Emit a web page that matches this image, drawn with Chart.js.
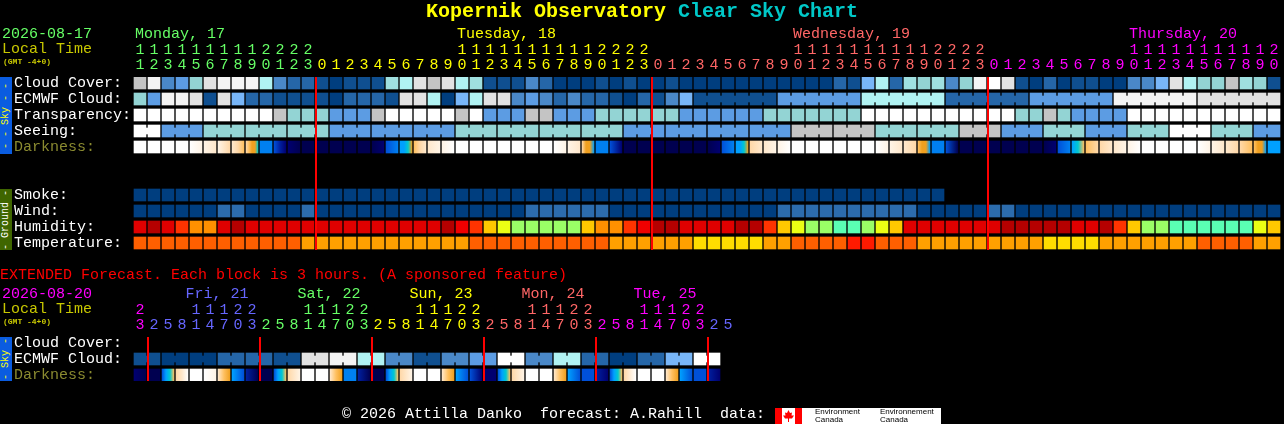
<!DOCTYPE html>
<html>
<head>
<meta charset="utf-8">
<title>Kopernik Observatory Clear Sky Chart</title>
<script src="https://cdn.jsdelivr.net/npm/chart.js@4"></script>
<style>
  html, body { margin: 0; padding: 0; background: #000; overflow: hidden; }
  body { width: 1284px; height: 424px; position: relative; font-family: "Liberation Mono", monospace; }
  canvas { position: absolute; left: 0; }
  .t { position: absolute; font-size: 15px; line-height: 16px; white-space: pre; }
  .side { position: absolute; left: 0; width: 12px; font-size: 10px; line-height: 12px; text-align: center;
          writing-mode: vertical-rl; transform: rotate(180deg); white-space: pre; }
  #ec { position: absolute; left: 775px; top: 408px; width: 166px; height: 16px; background: #fff; overflow: hidden; }
  #ec div { position: absolute; }
  #ec .name { color: #000; font: 8px/8px "Liberation Sans", sans-serif; top: 0; white-space: pre; }
</style>
</head>
<body>
<canvas id="main" width="1284" height="260" style="top:0"></canvas>
<canvas id="ext" width="1284" height="144" style="top:280px"></canvas>

<div class="t" style="left:426px;top:0;font-size:20px;line-height:24px;font-weight:bold;color:#ffff00">Kopernik Observatory <span style="color:#00c8c8">Clear Sky Chart</span></div>
<div class="t" style="left:2px;top:27px;color:#66ff66">2026-08-17</div>
<div class="t" style="left:2px;top:42px;color:#c8c800">Local Time</div>
<div class="t" style="left:3px;top:57px;font-size:8px;line-height:10px;font-weight:bold;color:#c8c800">(GMT -4+0)</div>
<div class="side" style="top:77px;height:77px;background:#0a5ce0;color:#ffff00">- - Sky - -</div>
<div class="side" style="top:189px;height:61px;background:#3f6600;color:#ffffff">- Ground -</div>
<div class="t" style="left:0;top:268px;color:#ff0000">EXTENDED Forecast. Each block is 3 hours. (A sponsored feature)</div>
<div class="t" style="left:2px;top:287px;color:#ff00ff">2026-08-20</div>
<div class="t" style="left:2px;top:302px;color:#c8c800">Local Time</div>
<div class="t" style="left:3px;top:317px;font-size:8px;line-height:10px;font-weight:bold;color:#c8c800">(GMT -4+0)</div>
<div class="side" style="top:337px;height:44px;background:#0a5ce0;color:#ffff00">- Sky -</div>
<div class="t" style="left:342px;top:407px;color:#ffffff">© 2026 Attilla Danko  forecast: A.Rahill  data:</div>
<div id="ec">
  <div style="left:0;top:0;width:7px;height:16px;background:#ff0000"></div>
  <div style="left:20px;top:0;width:7px;height:16px;background:#ff0000"></div>
  <svg style="position:absolute;left:7px;top:0" width="13" height="16" viewBox="0 0 13 16"><polygon fill="#ff0000" points="6.5,2 8,5 10,4.5 9.5,7.5 12,7.5 10,10.5 7,10.5 7,14 6,14 6,10.5 3,10.5 1,7.5 3.5,7.5 3,4.5 5,5"/></svg>
  <div class="name" style="left:40px">Environment
Canada</div>
  <div class="name" style="left:105px">Environnement
Canada</div>
</div>

<script>
// forecast hours, one per column
const hours = [11,12,13,14,15,16,17,18,19,20,21,22,23,
  0,1,2,3,4,5,6,7,8,9,10,11,12,13,14,15,16,17,18,19,20,21,22,23,
  0,1,2,3,4,5,6,7,8,9,10,11,12,13,14,15,16,17,18,19,20,21,22,23,
  0,1,2,3,4,5,6,7,8,9,10,11,12,13,14,15,16,17,18,19,20];
const midnightCols = [13, 37, 61];
const dayLabels = ['Monday, 17', 'Tuesday, 18', 'Wednesday, 19', 'Thursday, 20'];
const dayLabelCols = [0, 23, 47, 71];

const cloudCover = [9,11,3,4,8,10,11,11,11,6,
  3,2,2,1,0,1,1,1,7,6,
  10,9,10,6,7,1,1,1,3,2,
  0,0,0,1,0,1,0,0,1,0,
  0,0,0,0,0,0,0,0,0,0,
  2,1,5,6,2,7,8,7,3,8,
  11,12,10,1,0,2,0,1,1,0,
  0,3,3,5,10,6,8,8,9,7,
  8,1];
const ecmwfCloud = [8,4,11,11,10,1,10,5,2,2,
  1,1,1,1,0,2,2,2,1,10,
  10,6,0,5,6,10,10,3,4,3,
  2,3,2,2,1,0,2,1,3,5,
  1,1,1,1,1,1,4,4,4,4,
  4,4,6,6,6,6,6,6,2,2,
  2,2,2,2,4,4,4,4,4,4,
  11,11,11,11,11,11,10,10,10,10,
  10,10];
const transparency = [12,12,12,12,12,12,12,12,12,12,
  9,8,8,8,4,4,4,9,12,12,
  12,12,12,9,12,4,4,4,9,9,
  4,4,4,8,8,8,8,8,8,4,
  4,4,4,4,4,8,8,8,8,8,
  8,8,12,12,12,12,12,12,12,12,
  12,12,12,8,8,9,8,4,4,4,
  4,12,12,12,12,12,12,12,12,12,
  12,12];
const seeing = [12,12,4,4,4,8,8,8,8,8,
  8,8,8,8,4,4,4,4,4,4,
  4,4,4,8,8,8,8,8,8,8,
  8,8,8,8,8,4,4,4,4,4,
  4,4,4,4,4,4,4,9,9,9,
  9,9,9,8,8,8,8,8,8,9,
  9,9,4,4,4,8,8,8,4,4,
  4,8,8,8,12,12,12,8,8,8,
  4,4];
// each entry: brightness levels across one cell, left to right
const darkness = [[0],[0],[0],[0],[0,1],[1,2],[1,3],[2,3,4],[3,4,5,5,6],[8],
  [9,10,11],[11,12],[12],[12],[12],[12],[12],[12,11],[9,8],[7,7,6,5],
  [4,3,2],[2,1],[1,0],[0],[0],[0],[0],[0],[0],[0],
  [0,1],[1,2],[3,5,5,7],[8],[9,11],[12],[12],[12],[12],[12],
  [12],[12,11],[9,8],[7,7,6,5],[3,2],[2,1],[1,0],[0],[0],[0],
  [0],[0],[0],[0,1],[1,2],[2,3],[4,5,5,7],[8],[9,12],[12],
  [12],[12],[12],[12],[12],[12,11],[9,8],[7,6,4],[4,3],[3,2],
  [2,1],[1,0],[0],[0],[0],[0],[0,1],[1,2],[2,3],[3,4],
  [4,5,5,7],[7]];

const smoke = [0,0,0,0,0,0,0,0,0,0,0,0,0,0,0,0,0,0,0,0,
  0,0,0,0,0,0,0,0,0,0,0,0,0,0,0,0,0,0,0,0,
  0,0,0,0,0,0,0,0,0,0,0,0,0,0,0,0,0,0];
const wind = [0,0,0,0,0,0,1,1,0,0,
  0,0,1,0,0,0,0,0,0,0,
  0,0,0,0,0,0,0,0,1,1,
  1,1,1,1,0,0,0,0,0,0,
  0,0,0,0,0,0,1,1,1,1,
  1,1,1,1,1,1,0,0,0,0,
  0,1,1,0,0,0,0,0,0,0,
  0,0,0,0,0,0,0,0,0,0,
  0,0];
const humidity = [1,0,1,3,4,4,1,0,1,1,
  1,1,1,1,1,1,1,1,1,1,
  1,1,0,2,3,5,6,7,7,7,
  7,7,5,4,4,3,2,0,0,1,
  1,1,1,0,0,3,5,6,7,7,
  8,8,7,6,5,1,1,1,1,1,
  1,1,0,0,0,0,0,1,1,0,
  3,5,7,7,8,8,8,8,8,8,
  6,5];
const temperature = [1,1,1,1,1,1,1,1,1,1,
  1,1,2,2,2,2,2,2,2,2,
  2,2,2,2,1,1,1,1,1,1,
  1,1,1,1,2,2,2,2,2,2,
  3,3,3,3,3,2,2,1,1,1,
  1,0,0,1,1,1,2,2,2,2,
  2,2,2,2,2,3,3,3,3,2,
  2,2,2,2,2,2,1,1,1,1,
  2,2];

// extended forecast, 3 hour columns
const extHours = [23,2,5,8,11,14,17,20,23,2,5,8,11,14,17,20,23,2,5,8,11,14,17,20,23,
  2,5,8,11,14,17,20,23,2,5,8,11,14,17,20,23,2,5];
const extMidnightCols = [1, 9, 17, 25, 33, 41];
const extDayLabels = ['Fri, 21', 'Sat, 22', 'Sun, 23', 'Mon, 24', 'Tue, 25'];
const extDayLabelCols = [3.6, 11.6, 19.6, 27.6, 35.6];
const extEcmwfBlocks = [1,0,0,2,2,1,10,11,6,3,1,3,4,12,3,6,2,0,2,5,12];
const extDarkness = [[11,12],[12],[9,7,6,4],[3,2,0],[0],[0,1],[2,4,5],[7,9],[10,12],[12],
  [9,7,6,4],[3,1],[0],[0],[2,4,5],[8],[10,12],[12],[9,7,6,4],[3,1],
  [0],[0],[2,4,5],[7,9],[9,11],[11],[9,7,6,4],[3,1],[0],[0],
  [2,4,5],[7,9],[9],[10,11],[9,7,6,4],[3,0],[0],[0],[2,4,5],[7,9],
  [9],[10,11]];

// row names, row position counted in row heights from the top of the block
const mainRows = ['Cloud Cover:', 'ECMWF Cloud:', 'Transparency:', 'Seeing:', 'Darkness:', '', '', 'Smoke:', 'Wind:', 'Humidity:', 'Temperature:'];
const extRows = ['Cloud Cover:', 'ECMWF Cloud:', 'Darkness:'];

const SKY_COLORS = ['#003e7f','#0f4f90','#2566a8','#4a88c8','#5c9ce3','#78b6f8','#b0f2f2','#9fe0e0','#93d4d4','#c4c4c4','#e2e2e2','#f4f4f4','#ffffff'];
const DARK_COLORS = ['#ffffff','#fff4e6','#ffe8cc','#ffd8a8','#ffc060','#f0a020','#00c8d0','#00a0ff','#0080f0','#0050d8','#0020a0','#000070','#000050'];
const WIND_COLORS = ['#003e7f','#2c6cad'];
const HUMIDITY_COLORS = ['#b50000','#e00000','#f00000','#ff3300','#ff9000','#ffc800','#ebff14','#9aff66','#5affb3'];
const TEMP_COLORS = ['#ff1a00','#ff5f00','#ffa000','#ffdd00'];
const DAY_COLORS = ['#66ff66','#ffff00','#ff6666','#ff00ff'];
const EXT_DAY_COLORS = ['#ff00ff','#6666ff','#66ff66','#ffff00','#ff6666','#ff00ff','#6666ff'];
const FONT = '"Liberation Mono", monospace';
const CELL_H = 0.75;     // 12px of the 16px row pitch
const LINE_SHIFT = 6 / 14;  // midnight line sits on the left edge of its cell

function cells(values, row, colors) {
  return {
    data: values.map((v, i) => ({ x: i, y: [row, row + CELL_H] })),
    backgroundColor: values.map(v => colors[v]),
    barThickness: 12, grouped: false, order: 2
  };
}

// cells with a horizontal gradient, darkness row
function gradientCells(stops, row) {
  return {
    data: stops.map((s, i) => ({ x: i, y: [row, row + CELL_H] })),
    backgroundColor: function(ctx) {
      const s = stops[ctx.dataIndex];
      if (!s) return DARK_COLORS[0];
      const px = ctx.chart.scales.x.getPixelForValue(ctx.dataIndex);
      // scales are not laid out yet on the first pass
      if (s.length === 1 || !isFinite(px)) return DARK_COLORS[s[0]];
      const g = ctx.chart.ctx.createLinearGradient(px - 6, 0, px + 6, 0);
      s.forEach((level, i) => g.addColorStop(i / (s.length - 1), DARK_COLORS[level]));
      return g;
    },
    barThickness: 12, grouped: false, order: 2
  };
}

// small bridge across the gap between cells of one forecast block
function bridges(values, row, colors, firstCol, blockSize, lastCol) {
  const data = [], bg = [];
  for (let i = firstCol; i < lastCol; i++) {
    if ((i + 1 - firstCol) % blockSize === 0) continue;
    data.push({ x: i + 0.5, y: [row + 3 / 16, row + 9 / 16] });
    bg.push(colors[values[i]]);
  }
  return { data: data, backgroundColor: bg, barThickness: 2, grouped: false, order: 2 };
}

function midnightLine(col, maxRow) {
  return {
    type: 'line',
    data: [{ x: col - LINE_SHIFT, y: 0 }, { x: col - LINE_SHIFT, y: maxRow }],
    borderColor: '#ff0000', borderWidth: 2, pointRadius: 0, order: 1
  };
}

function hourLabel(h) {
  const s = String(h);
  return s.length > 1 ? [s[0], s[1]] : ['', s];
}

function dayIndex(col, bounds) {
  let d = 0;
  bounds.forEach(b => { if (col >= b) d++; });
  return d;
}

function buildOptions(cfg) {
  const hourFont = { family: FONT, size: 15, lineHeight: '15px' };
  const noGrid = { display: false, drawTicks: false };
  return {
    responsive: false,
    animation: false,
    devicePixelRatio: 1,
    events: [],
    layout: { padding: { left: 14, right: 3, top: cfg.top, bottom: cfg.bottom } },
    plugins: { legend: { display: false }, tooltip: { enabled: false }, title: { display: false } },
    scales: {
      x: {
        type: 'linear', position: 'top', min: -0.5, max: 81.5, offset: false,
        grid: noGrid, border: { display: false },
        afterBuildTicks: axis => { axis.ticks = cfg.hours.map((h, i) => ({ value: i })); },
        afterFit: axis => { axis.height = 35; },
        ticks: {
          autoSkip: false, maxRotation: 0, minRotation: 0, padding: 4, font: hourFont,
          color: ctx => cfg.hourColor(ctx.index),
          callback: v => hourLabel(cfg.hours[v])
        }
      },
      xDay: {
        type: 'linear', position: 'top', weight: 1, min: -0.5, max: 81.5, offset: false,
        grid: noGrid, border: { display: false },
        afterBuildTicks: axis => { axis.ticks = cfg.dayCols.map(c => ({ value: c - 5 / 14 })); },
        afterFit: axis => { axis.height = 16; },
        ticks: {
          autoSkip: false, maxRotation: 0, minRotation: 0, padding: 0, align: 'start', font: hourFont,
          color: ctx => cfg.dayColor(ctx.index),
          callback: (v, i) => cfg.dayLabels[i]
        }
      },
      y: {
        type: 'linear', reverse: true, min: 0, max: cfg.maxRow,
        grid: noGrid, border: { display: false },
        afterBuildTicks: axis => {
          axis.ticks = cfg.rows.map((r, i) => ({ value: i + CELL_H / 2 })).filter((t, i) => cfg.rows[i]);
        },
        afterFit: axis => { axis.width = 119; },
        ticks: {
          autoSkip: false, crossAlign: 'far', padding: 0, font: { family: FONT, size: 15 },
          color: ctx => cfg.rows[Math.floor(ctx.tick.value)] === 'Darkness:' ? '#8a8a30' : '#ffffff',
          callback: v => cfg.rows[Math.floor(v)]
        }
      }
    }
  };
}

const mainMax = 173 / 16;
new Chart(document.getElementById('main'), {
  type: 'bar',
  data: {
    datasets: [
      cells(cloudCover, 0, SKY_COLORS),
      cells(ecmwfCloud, 1, SKY_COLORS),
      bridges(ecmwfCloud, 1, SKY_COLORS, 40, 6, 81),
      cells(transparency, 2, SKY_COLORS),
      cells(seeing, 3, SKY_COLORS),
      bridges(seeing, 3, SKY_COLORS, 2, 3, 81),
      bridges(seeing, 3, SKY_COLORS, 0, 2, 1),
      gradientCells(darkness, 4),
      cells(smoke, 7, WIND_COLORS),
      cells(wind, 8, WIND_COLORS),
      cells(humidity, 9, HUMIDITY_COLORS),
      cells(temperature, 10, TEMP_COLORS)
    ].concat(midnightCols.map(c => midnightLine(c, mainMax)))
  },
  options: buildOptions({
    top: 26, bottom: 10, maxRow: mainMax, rows: mainRows, hours: hours,
    hourColor: i => DAY_COLORS[dayIndex(i, midnightCols)],
    dayCols: dayLabelCols, dayLabels: dayLabels, dayColor: i => DAY_COLORS[i]
  })
});

const extEcmwf = extEcmwfBlocks.flatMap(v => [v, v]);
const extMax = 44 / 16;
new Chart(document.getElementById('ext'), {
  type: 'bar',
  data: {
    datasets: [
      cells(extEcmwf, 1, SKY_COLORS),
      bridges(extEcmwf, 1, SKY_COLORS, 0, 2, 41),
      gradientCells(extDarkness, 2)
    ].concat(extMidnightCols.map(c => midnightLine(c, extMax)))
  },
  options: buildOptions({
    top: 6, bottom: 43, maxRow: extMax, rows: extRows, hours: extHours,
    hourColor: i => EXT_DAY_COLORS[dayIndex(i, extMidnightCols)],
    dayCols: extDayLabelCols, dayLabels: extDayLabels, dayColor: i => EXT_DAY_COLORS[i + 1]
  })
});
</script>
</body>
</html>
